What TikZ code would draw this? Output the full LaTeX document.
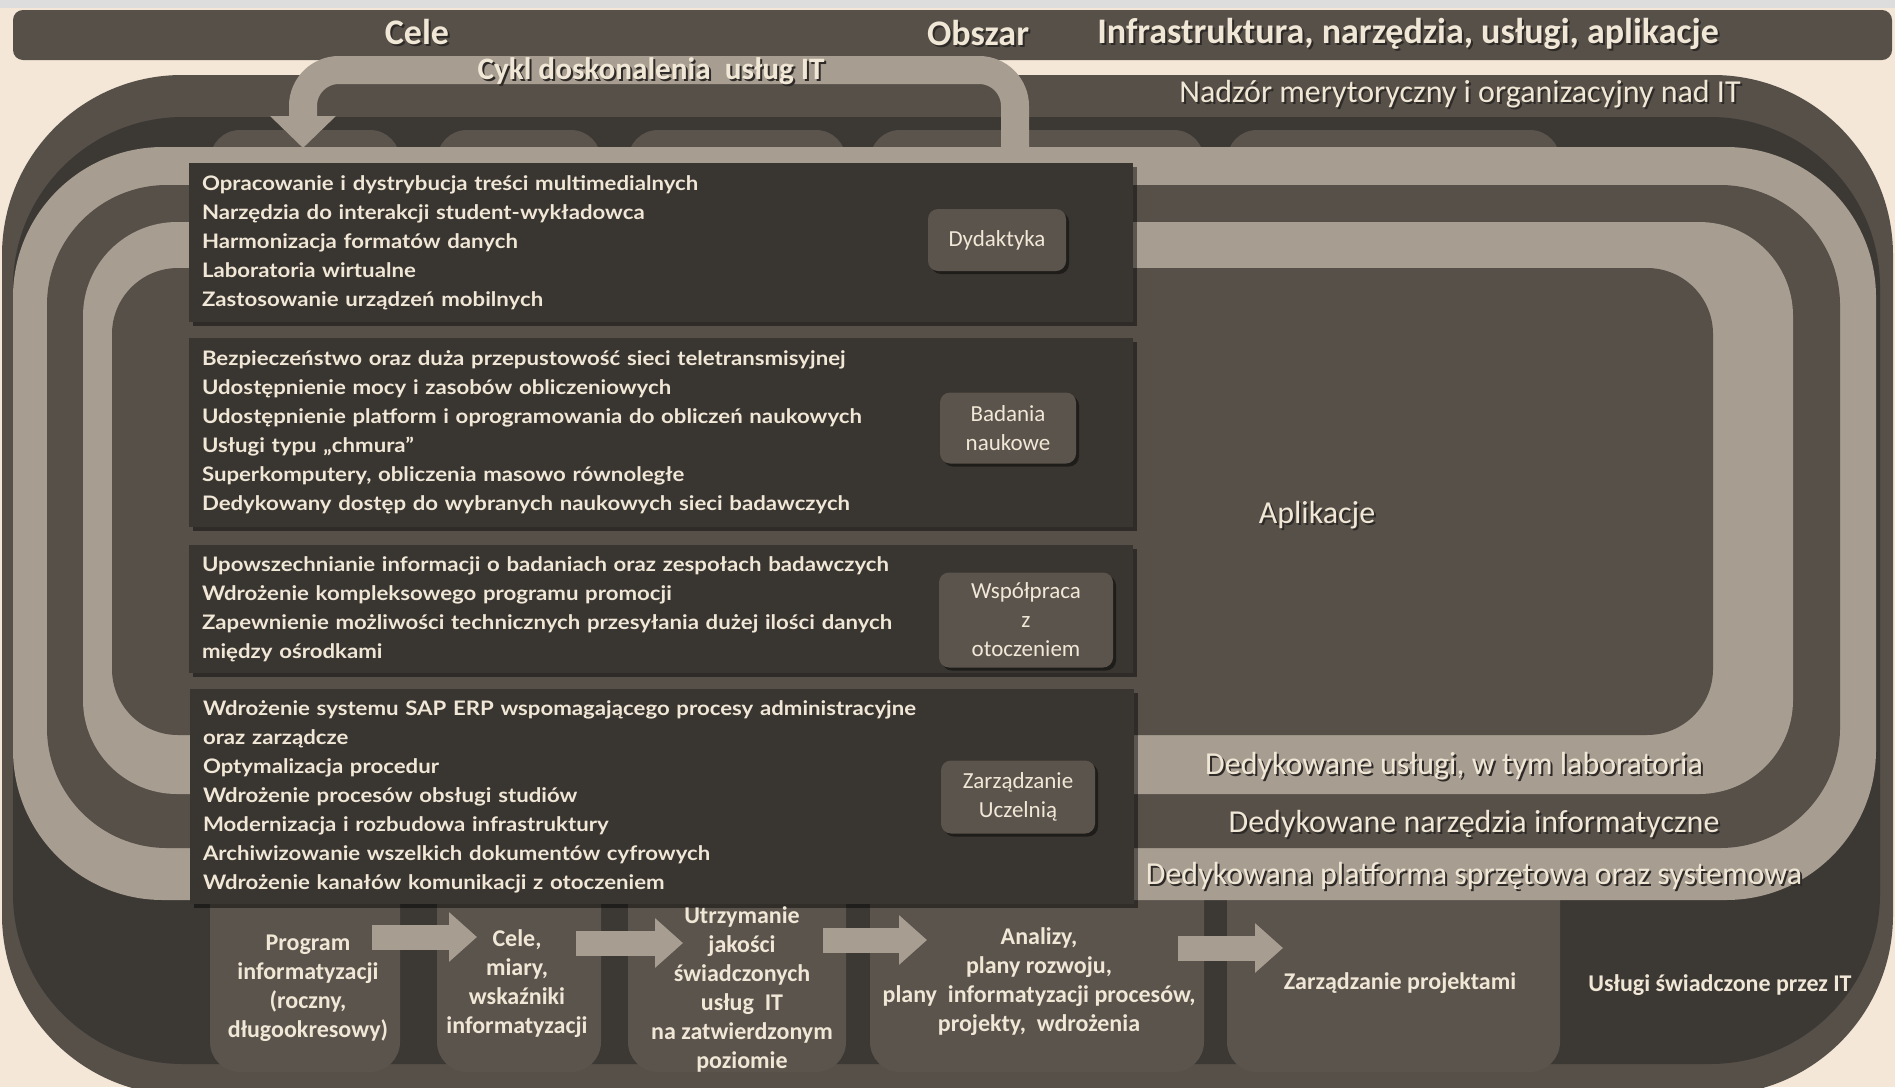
\documentclass[tikz,border=0pt]{standalone}
\usepackage{fontspec}
\setmainfont{Carlito}
\newfontfamily\listfont[FakeStretch=1.11]{Lato}
\usetikzlibrary{arrows.meta,shadows}

\definecolor{bgcream}{HTML}{F4E7D7}
\definecolor{topgray}{HTML}{DDDDDD}
\definecolor{midgray}{HTML}{565049}
\definecolor{deepgray}{HTML}{3C3834}
\definecolor{lightband}{HTML}{A79D91}
\definecolor{panelgray}{HTML}{393531}
\definecolor{boxgray}{HTML}{5B544D}
\definecolor{txtcream}{HTML}{F1E7D6}
\definecolor{txtshadow}{HTML}{2E2A27}

% one-line label with a small dark shadow under it
\newcommand\shadowed[1]{\makebox[0pt][l]{\hspace{1pt}\raisebox{-1pt}{\color{txtshadow}#1}}#1}

\begin{document}
\begin{tikzpicture}[x=0.5pt,y=-0.5pt,
  hdr/.style={text=txtcream, font=\bfseries\fontsize{18}{21}\selectfont},
  bandlab/.style={text=txtcream, font=\fontsize{16}{19}\selectfont},
  panel/.style={fill=panelgray, text=txtcream, align=left, text width=459pt,
    inner xsep=6.5pt, inner ysep=0pt,
    font=\listfont\bfseries\fontsize{10}{14.5}\selectfont,
    drop shadow={shadow xshift=2pt, shadow yshift=-2pt, opacity=0.45, fill=black}},
  button/.style={fill=boxgray, text=txtcream, rounded corners=5pt, align=center,
    inner sep=0pt, font=\fontsize{11.5}{14.5}\selectfont,
    drop shadow={shadow xshift=1.5pt, shadow yshift=-1.5pt, opacity=0.45, fill=black}},
  stagetxt/.style={text=txtcream, align=center, inner sep=0pt,
    font=\bfseries\fontsize{12}{14.5}\selectfont},
  blockarr/.style={lightband, line width=12.5pt, -{Triangle[width=24pt,length=14pt]}}]

  \useasboundingbox (0,0) rectangle (1895,1087);
  \fill[bgcream] (0,0) rectangle (1895,1087);
  \fill[topgray] (0,0) rectangle (1895,8);

  %% header strip
  \fill[midgray, rounded corners=5pt] (13,10) rectangle (1892,60);

  %% outer layers
  \fill[midgray, rounded corners=90pt] (2,75) rectangle (1893,1095);
  \fill[deepgray, rounded corners=85pt] (13,117) rectangle (1880,1064);

  %% stage columns (behind the rings)
  \foreach \a/\b in {210/400, 437/601, 628/846, 870/1204, 1227/1560}
    \fill[boxgray, rounded corners=15pt] (\a,130) rectangle (\b,1072);

  %% rings
  \fill[lightband, rounded corners=75pt] (13,147) rectangle (1876,900);
  \fill[midgray, rounded corners=60pt] (47,185) rectangle (1840,848);
  \fill[lightband, rounded corners=47pt] (83,222) rectangle (1793,794);
  \fill[midgray, rounded corners=33pt] (112,268) rectangle (1713,735);

  %% improvement cycle
  \coordinate (cycStart) at (1015,163);
  \coordinate (cycBend) at (303,70);
  \coordinate (cycEnd) at (303,148);
  \draw[lightband, line width=14pt, rounded corners=18pt,
    -{Triangle[width=32pt,length=16pt]}] (cycStart) |- (cycBend) -- (cycEnd);
  \node[hdr, font=\bfseries\fontsize{15.6}{18}\selectfont] (cycLab) at (651,72.5)
    {\shadowed{Cykl doskonalenia~ usług IT}};

  \node[hdr] (hCele) at (417,33) {\shadowed{Cele}};
  \node[hdr] (hObszar) at (978,34) {\shadowed{Obszar}};
  \node[hdr] (hInfra) at (1408,35) {\shadowed{Infrastruktura, narzędzia, usługi, aplikacje}};

  \node[bandlab] (lNadzor) at (1460,95.5) {\shadowed{Nadzór merytoryczny i organizacyjny nad IT}};
  \node[bandlab] (lAplik) at (1317,516.5) {\shadowed{Aplikacje}};
  \node[bandlab] (lUslugi) at (1454,767.5) {\shadowed{Dedykowane usługi, w tym laboratoria}};
  \node[bandlab] (lNarz) at (1474,825) {\shadowed{Dedykowane narzędzia informatyczne}};
  \node[bandlab] (lPlatf) at (1474,877) {\shadowed{Dedykowana platforma sprzętowa oraz systemowa}};

  %% goals
  \node[panel, minimum height=79.5pt] (pDyd) at (661,242.5)
    {Opracowanie i dystrybucja treści multimedialnych\\
     Narzędzia do interakcji student-wykładowca\\
     Harmonizacja formatów danych\\
     Laboratoria wirtualne\\
     Zastosowanie urządzeń mobilnych};
  \node[panel, minimum height=94.5pt] (pBad) at (661,432.5)
    {Bezpieczeństwo oraz duża przepustowość sieci teletransmisyjnej\\
     Udostępnienie mocy i zasobów obliczeniowych\\
     Udostępnienie platform i oprogramowania do obliczeń naukowych\\
     Usługi typu „chmura”\\
     Superkomputery, obliczenia masowo równoległe\\
     Dedykowany dostęp do wybranych naukowych sieci badawczych};
  \node[panel, minimum height=64pt] (pWsp) at (661,609)
    {Upowszechnianie informacji o badaniach oraz zespołach badawczych\\
     Wdrożenie kompleksowego programu promocji\\
     Zapewnienie możliwości technicznych przesyłania dużej ilości danych\\
     między ośrodkami};
  \node[panel, minimum height=107.5pt] (pZarz) at (662,796.5)
    {Wdrożenie systemu SAP ERP wspomagającego procesy administracyjne\\
     oraz zarządcze\\
     Optymalizacja procedur\\
     Wdrożenie procesów obsługi studiów\\
     Modernizacja i rozbudowa infrastruktury\\
     Archiwizowanie wszelkich dokumentów cyfrowych\\
     Wdrożenie kanałów komunikacji z otoczeniem};

  %% areas
  \node[button, minimum width=69pt, minimum height=31pt] (bDyd) at (997,240) {Dydaktyka};
  \node[button, minimum width=68pt, minimum height=35.5pt] (bBad) at (1008,428) {Badania\\naukowe};
  \node[button, minimum width=87pt, minimum height=47.5pt] (bWsp) at (1026,620) {Współpraca\\z\\otoczeniem};
  \node[button, minimum width=77pt, minimum height=36.5pt] (bZarz) at (1018,797) {Zarządzanie\\Uczelnią};

  %% stages
  \node[stagetxt] (sProg) at (308,988) {Program\\informatyzacji\\(roczny,\\długookresowy)};
  \node[stagetxt] (sCele) at (517,984) {Cele,\\miary,\\wskaźniki\\informatyzacji};
  \node[stagetxt] (sUtrz) at (742,989) {Utrzymanie\\jakości\\świadczonych\\usług~ IT\\na zatwierdzonym\\poziomie};
  \node[stagetxt] (sAnal) at (1039,982) {Analizy,\\plany rozwoju,\\plany~ informatyzacji procesów,\\projekty,~ wdrożenia};
  \node[stagetxt] (sProj) at (1400,983) {Zarządzanie projektami};
  \node[stagetxt] (sUslugi) at (1720,985) {Usługi świadczone przez IT};

  \coordinate (a1s) at (372,937);  \coordinate (a1e) at (477,937);
  \coordinate (a2s) at (576,943);  \coordinate (a2e) at (683,943);
  \coordinate (a3s) at (823,940);  \coordinate (a3e) at (927,940);
  \coordinate (a4s) at (1178,948); \coordinate (a4e) at (1283,948);
  \draw[blockarr] (a1s) -- (a1e); %% program -> cele
  \draw[blockarr] (a2s) -- (a2e); %% cele -> utrzymanie
  \draw[blockarr] (a3s) -- (a3e); %% utrzymanie -> analizy
  \draw[blockarr] (a4s) -- (a4e); %% analizy -> projekty

\end{tikzpicture}
\end{document}
